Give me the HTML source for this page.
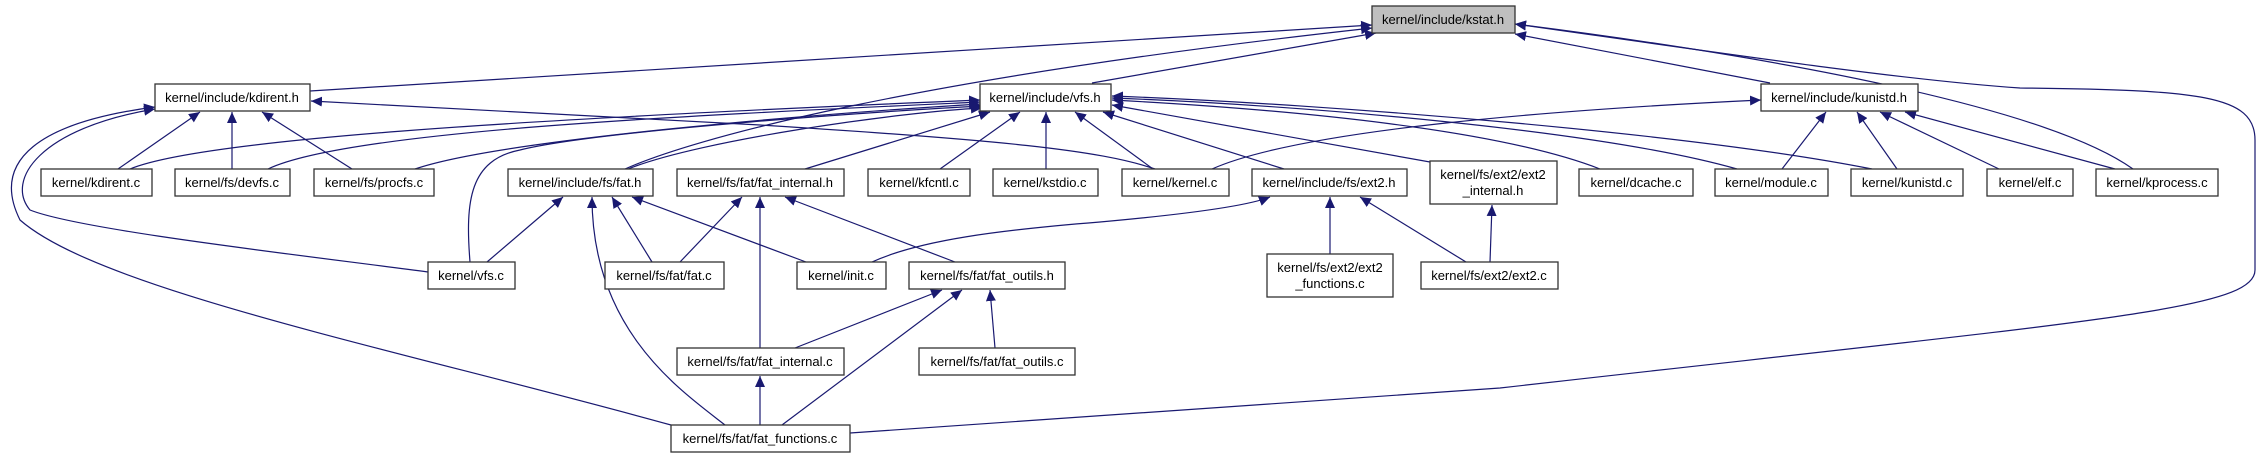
<!DOCTYPE html>
<html><head><meta charset="utf-8"><style>
html,body{margin:0;padding:0;background:#fff;}
svg{display:block;}
text{font-family:"Liberation Sans",Arial,sans-serif;font-size:13px;fill:#000;text-anchor:middle;}
.n{fill:#fff;stroke:#333;stroke-width:1.3;}
.e{fill:none;stroke:#191970;stroke-width:1.2;}
</style></head><body>
<svg width="2263" height="459" viewBox="0 0 2263 459" xmlns="http://www.w3.org/2000/svg">
<defs>
<marker id="a" markerUnits="userSpaceOnUse" markerWidth="12" markerHeight="10" refX="11" refY="5" orient="auto">
<path d="M0,0 L11,5 L0,10 Z" fill="#191970"/>
</marker>
</defs>
<g marker-end="url(#a)">
<!-- to kstat -->
<path class="e" d="M310,91 L1372,25"/>
<path class="e" d="M1092,83 L1376,33"/>
<path class="e" d="M625,169 C690,140 900,80 1372,28"/>
<path class="e" d="M1770,83 L1515,34"/>
<path class="e" d="M2133,169 C2050,110 1800,60 1515,24"/>
<path class="e" d="M850,433 L1500,388 C2100,320 2255,310 2255,270 L2255,140 C2255,95 2200,90 2020,88 C1900,80 1700,50 1515,24"/>
<!-- to kdirent.h -->
<path class="e" d="M118,169 L200,112"/>
<path class="e" d="M232,169 L232,112"/>
<path class="e" d="M352,169 L262,112"/>
<path class="e" d="M428,272 C300,255 80,230 30,210 C5,180 40,128 155,109"/>
<path class="e" d="M671,425 C400,350 100,290 20,220 C-10,160 40,122 155,107"/>
<path class="e" d="M1155,169 C1100,150 1000,140 760,125 L311,101"/>
<!-- to vfs.h -->
<path class="e" d="M130,169 C200,140 500,120 980,100"/>
<path class="e" d="M268,169 C350,130 700,115 980,102"/>
<path class="e" d="M415,169 C500,140 800,115 980,104"/>
<path class="e" d="M470,262 C465,200 470,160 520,150 C600,130 900,110 982,106"/>
<path class="e" d="M628,169 C700,140 900,112 982,108"/>
<path class="e" d="M805,169 L990,112"/>
<path class="e" d="M940,169 L1020,112"/>
<path class="e" d="M1046,169 L1046,112"/>
<path class="e" d="M1153,169 L1075,112"/>
<path class="e" d="M1284,169 L1103,112"/>
<path class="e" d="M1430,162 L1112,105"/>
<path class="e" d="M1600,169 C1500,130 1300,110 1112,100"/>
<path class="e" d="M1737,169 C1600,130 1300,105 1112,98"/>
<path class="e" d="M1872,169 C1700,135 1350,105 1112,96"/>
<!-- to kunistd.h -->
<path class="e" d="M1212,169 C1300,130 1550,110 1761,100"/>
<path class="e" d="M1782,169 L1826,112"/>
<path class="e" d="M1897,169 L1857,112"/>
<path class="e" d="M1999,169 L1880,112"/>
<path class="e" d="M2115,169 L1905,112"/>
<!-- to fat.h -->
<path class="e" d="M487,262 L563,197"/>
<path class="e" d="M652,262 L612,197"/>
<path class="e" d="M725,425 C680,390 592,330 592,197"/>
<path class="e" d="M806,262 L632,197"/>
<!-- to fat_internal.h -->
<path class="e" d="M680,262 L742,197"/>
<path class="e" d="M760,348 L760,197"/>
<path class="e" d="M955,262 L785,197"/>
<!-- to ext2.h -->
<path class="e" d="M872,262 C920,240 1000,230 1100,222 C1200,213 1250,205 1270,197"/>
<path class="e" d="M1330,254 L1330,197"/>
<path class="e" d="M1466,262 L1360,197"/>
<path class="e" d="M1490,262 L1492,205"/>
<!-- to fat_outils.h -->
<path class="e" d="M795,348 L942,290"/>
<path class="e" d="M782,425 L962,290"/>
<path class="e" d="M995,348 L990,290"/>
<path class="e" d="M760,425 L760,376"/>
</g>
<!-- nodes -->
<rect x="1372" y="6" width="143" height="27" fill="#bfbfbf" stroke="#333" stroke-width="1.3"/><text x="1443" y="24">kernel/include/kstat.h</text>
<rect class="n" x="155" y="84" width="155" height="27"/><text x="232" y="102">kernel/include/kdirent.h</text>
<rect class="n" x="980" y="84" width="131" height="27"/><text x="1045" y="102">kernel/include/vfs.h</text>
<rect class="n" x="1761" y="84" width="157" height="27"/><text x="1839" y="102">kernel/include/kunistd.h</text>
<rect class="n" x="41" y="169" width="111" height="27"/><text x="96" y="187">kernel/kdirent.c</text>
<rect class="n" x="175" y="169" width="115" height="27"/><text x="232" y="187">kernel/fs/devfs.c</text>
<rect class="n" x="314" y="169" width="120" height="27"/><text x="374" y="187">kernel/fs/procfs.c</text>
<rect class="n" x="508" y="169" width="145" height="27"/><text x="580" y="187">kernel/include/fs/fat.h</text>
<rect class="n" x="677" y="169" width="167" height="27"/><text x="760" y="187">kernel/fs/fat/fat_internal.h</text>
<rect class="n" x="868" y="169" width="102" height="27"/><text x="919" y="187">kernel/kfcntl.c</text>
<rect class="n" x="993" y="169" width="105" height="27"/><text x="1045" y="187">kernel/kstdio.c</text>
<rect class="n" x="1122" y="169" width="107" height="27"/><text x="1175" y="187">kernel/kernel.c</text>
<rect class="n" x="1252" y="169" width="155" height="27"/><text x="1329" y="187">kernel/include/fs/ext2.h</text>
<rect class="n" x="1430" y="161" width="127" height="43"/><text x="1493" y="179">kernel/fs/ext2/ext2</text><text x="1493" y="195">_internal.h</text>
<rect class="n" x="1579" y="169" width="114" height="27"/><text x="1636" y="187">kernel/dcache.c</text>
<rect class="n" x="1715" y="169" width="113" height="27"/><text x="1771" y="187">kernel/module.c</text>
<rect class="n" x="1851" y="169" width="112" height="27"/><text x="1907" y="187">kernel/kunistd.c</text>
<rect class="n" x="1987" y="169" width="86" height="27"/><text x="2030" y="187">kernel/elf.c</text>
<rect class="n" x="2096" y="169" width="122" height="27"/><text x="2157" y="187">kernel/kprocess.c</text>
<rect class="n" x="428" y="262" width="87" height="27"/><text x="471" y="280">kernel/vfs.c</text>
<rect class="n" x="605" y="262" width="119" height="27"/><text x="664" y="280">kernel/fs/fat/fat.c</text>
<rect class="n" x="797" y="262" width="89" height="27"/><text x="841" y="280">kernel/init.c</text>
<rect class="n" x="909" y="262" width="156" height="27"/><text x="987" y="280">kernel/fs/fat/fat_outils.h</text>
<rect class="n" x="1267" y="254" width="126" height="43"/><text x="1330" y="272">kernel/fs/ext2/ext2</text><text x="1330" y="288">_functions.c</text>
<rect class="n" x="1421" y="262" width="137" height="27"/><text x="1489" y="280">kernel/fs/ext2/ext2.c</text>
<rect class="n" x="677" y="348" width="167" height="27"/><text x="760" y="366">kernel/fs/fat/fat_internal.c</text>
<rect class="n" x="919" y="348" width="156" height="27"/><text x="997" y="366">kernel/fs/fat/fat_outils.c</text>
<rect class="n" x="671" y="425" width="179" height="27"/><text x="760" y="443">kernel/fs/fat/fat_functions.c</text>
</svg>
</body></html>
